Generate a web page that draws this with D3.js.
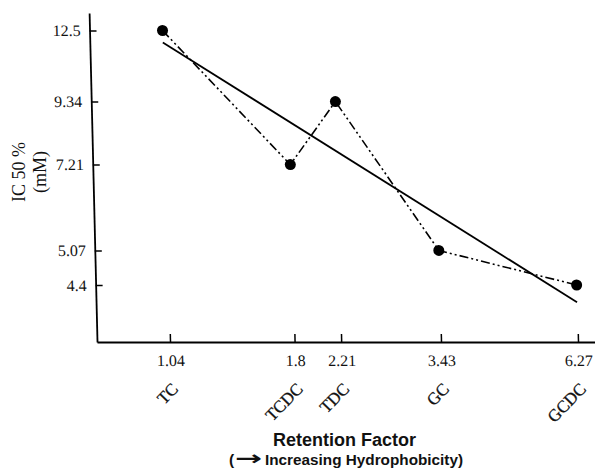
<!DOCTYPE html>
<html>
<head>
<meta charset="utf-8">
<script src="https://cdn.jsdelivr.net/npm/d3@7"></script>
<style>
body { margin: 0; background: #fff; }
</style>
</head>
<body>
<div id="chart"></div>
<script>
var compounds = ["TC", "TCDC", "TDC", "GC", "GCDC"];
var retention = [1.04, 1.8, 2.21, 3.43, 6.27];
var ic50 = [12.5, 7.21, 9.34, 5.07, 4.4];
var yTicks = [12.5, 9.34, 7.21, 5.07, 4.4];
// straight fit line, ends
var fitEnds = [[1.04, 11.9], [6.27, 4.1]];

var width = 595, height = 470;
var baseY = 342, axisX = 97;

var svg = d3.select("#chart")
    .append("svg")
    .attr("width", width)
    .attr("height", height)
    .style("font-family", "'Liberation Serif', 'Times New Roman', serif");

// the scanned page leans a little, so lean the plot the same way
var plot = svg.append("g")
    .attr("transform", "translate(0," + baseY + ") skewX(1.375) translate(0," + (-baseY) + ")");

var xScale = d3.scaleLog().domain([1.04, 6.27]).range([170, 578]);
xScale.domain([xScale.invert(axisX), xScale.invert(600)]).range([axisX, 600]);

var yScale = d3.scaleLog().domain([4.4, 12.5]).range([285, 30.5]);
yScale.domain([yScale.invert(baseY), yScale.invert(13)]).range([baseY, 13]);

var xAxis = plot.append("g")
    .attr("transform", "translate(0," + baseY + ")")
    .call(d3.axisBottom(xScale)
        .tickValues(retention)
        .tickFormat(function(d) { return d; })
        .tickSizeInner(-8)
        .tickSizeOuter(0)
        .tickPadding(13));

var yAxis = plot.append("g")
    .attr("transform", "translate(" + axisX + ",0)")
    .call(d3.axisLeft(yScale)
        .tickValues(yTicks)
        .tickFormat(function(d) { return d; })
        .tickSizeInner(-7)
        .tickSizeOuter(0)
        .tickPadding(9));

[xAxis, yAxis].forEach(function(a) {
    a.select(".domain").attr("stroke", "#000").attr("stroke-width", 1.8);
    a.selectAll(".tick line").attr("stroke", "#000").attr("stroke-width", 1.5);
    a.selectAll(".tick text")
        .attr("fill", "#111")
        .style("font-family", "'Liberation Serif', 'Times New Roman', serif")
        .style("font-size", "16px");
});

// compound names under the ticks
plot.selectAll(".cat")
    .data(compounds)
    .enter()
    .append("text")
    .attr("class", "cat")
    .attr("transform", function(d, i) {
        return "translate(" + (xScale(retention[i]) + 8) + ",390) rotate(-45)";
    })
    .attr("text-anchor", "end")
    .style("font-size", "17px")
    .attr("fill", "#111")
    .attr("stroke", "#111")
    .attr("stroke-width", 0.3)
    .text(function(d) { return d; });

var points = retention.map(function(r, i) { return { x: r, y: ic50[i] }; });

var line = d3.line()
    .x(function(d) { return xScale(d.x); })
    .y(function(d) { return yScale(d.y); });

plot.append("path")
    .datum(fitEnds.map(function(d) { return { x: d[0], y: d[1] }; }))
    .attr("d", line)
    .attr("fill", "none")
    .attr("stroke", "#000")
    .attr("stroke-width", 1.8);

plot.append("path")
    .datum(points)
    .attr("d", line)
    .attr("fill", "none")
    .attr("stroke", "#000")
    .attr("stroke-width", 1.6)
    .attr("stroke-dasharray", "9,3,2,3,2,3");

plot.selectAll(".dot")
    .data(points)
    .enter()
    .append("circle")
    .attr("class", "dot")
    .attr("cx", function(d) { return xScale(d.x); })
    .attr("cy", function(d) { return yScale(d.y); })
    .attr("r", 5.5)
    .attr("fill", "#000");

// y title, two lines
var yTitle = svg.append("g").attr("fill", "#111").style("font-size", "18px");
yTitle.append("text")
    .attr("transform", "translate(25,172) rotate(-90)")
    .attr("text-anchor", "middle")
    .text("IC 50 %");
yTitle.append("text")
    .attr("transform", "translate(46,172) rotate(-90)")
    .attr("text-anchor", "middle")
    .text("(mM)");

// x title
var sans = "'Liberation Sans', Arial, sans-serif";
svg.append("text")
    .attr("x", 344.5)
    .attr("y", 446)
    .attr("text-anchor", "middle")
    .style("font-family", sans)
    .style("font-weight", "bold")
    .style("font-size", "18px")
    .attr("fill", "#111")
    .text("Retention Factor");

var sub = svg.append("g")
    .attr("fill", "#111")
    .style("font-weight", "bold");
sub.append("text")
    .attr("x", 229)
    .attr("y", 465)
    .style("font-family", sans)
    .style("font-size", "15.5px")
    .text("(");
sub.append("text")
    .attr("transform", "translate(235,465) scale(1.8,1.1)")
    .style("font-family", "'DejaVu Sans', sans-serif")
    .style("font-size", "18px")
    .text("\u2192");
sub.append("text")
    .attr("x", 265)
    .attr("y", 465)
    .style("font-family", sans)
    .style("font-size", "15.3px")
    .text("Increasing Hydrophobicity)");
</script>
</body>
</html>
